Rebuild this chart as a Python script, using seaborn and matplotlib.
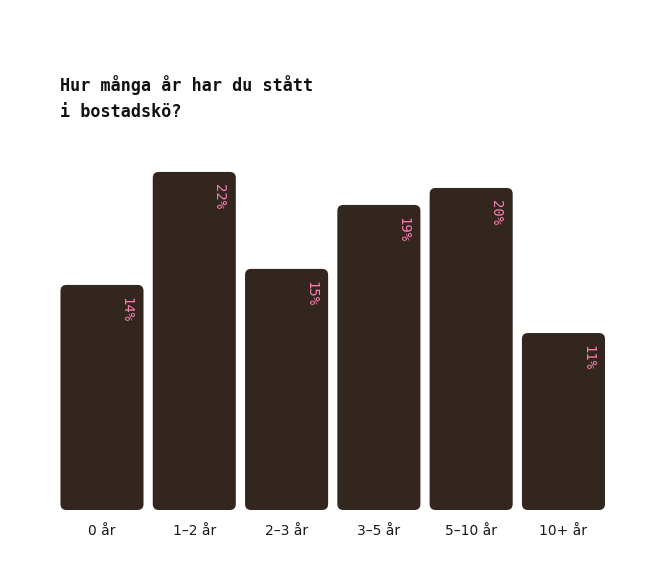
import matplotlib
matplotlib.use("Agg")
import matplotlib.pyplot as plt
import seaborn as sns
import pandas as pd
from matplotlib.patches import FancyBboxPatch

categories = ["0 år", "1–2 år", "2–3 år", "3–5 år", "5–10 år", "10+ år"]
values = [14.32, 21.51, 15.34, 19.41, 20.49, 11.26]

title = "Hur många år har du stått\ni bostadskö?"
bar_color = "#33261f"
label_color = "#ff7eb6"

sns.set_theme(style="white")
plt.rcParams["font.family"] = ["DejaVu Sans"]

df = pd.DataFrame({"cat": categories, "val": values})

fig = plt.figure(figsize=(6.68, 5.83), dpi=100)
ax = fig.add_axes([0.0836, 0.1252, 0.829, 0.674])
sns.barplot(data=df, x="cat", y="val", color=bar_color, width=0.9, ax=ax,
            saturation=1)
ax.set_xlim(-0.5, len(categories) - 0.5)
ax.set_ylim(0, 25)

# replace rectangles by rounded boxes
px_x = 553.8 / len(categories)
px_y = 15.715
r = 6 / px_x
aspect = (1 / px_y) / (1 / px_x)
for p in list(ax.patches):
    x, y, w, h = p.get_x(), p.get_y(), p.get_width(), p.get_height()
    p.remove()
    fb = FancyBboxPatch((x, y), w, h,
                        boxstyle=f"round,pad=0,rounding_size={r}",
                        mutation_aspect=aspect, facecolor=bar_color,
                        edgecolor="none")
    ax.add_patch(fb)
    ax.text(x + w - 17 / px_x, y + h - 12 / px_y, f"{h:.0f}%",
            rotation=-90, ha="center", va="top", color=label_color,
            fontsize=10, family=["DejaVu Sans Mono"])

for s in ax.spines.values():
    s.set_visible(False)
ax.set_yticks([])
ax.set_xlabel("")
ax.set_ylabel("")
ax.tick_params(axis="x", length=0, pad=10, labelsize=10, colors="#1a1a1a")

fig.text(60 / 668, 1 - 75 / 583, title, ha="left", va="top",
         fontsize=12.1, fontweight="bold", family=["DejaVu Sans Mono"],
         color="#111111", linespacing=1.6)

fig.savefig("out.png", dpi=100, facecolor="white")
